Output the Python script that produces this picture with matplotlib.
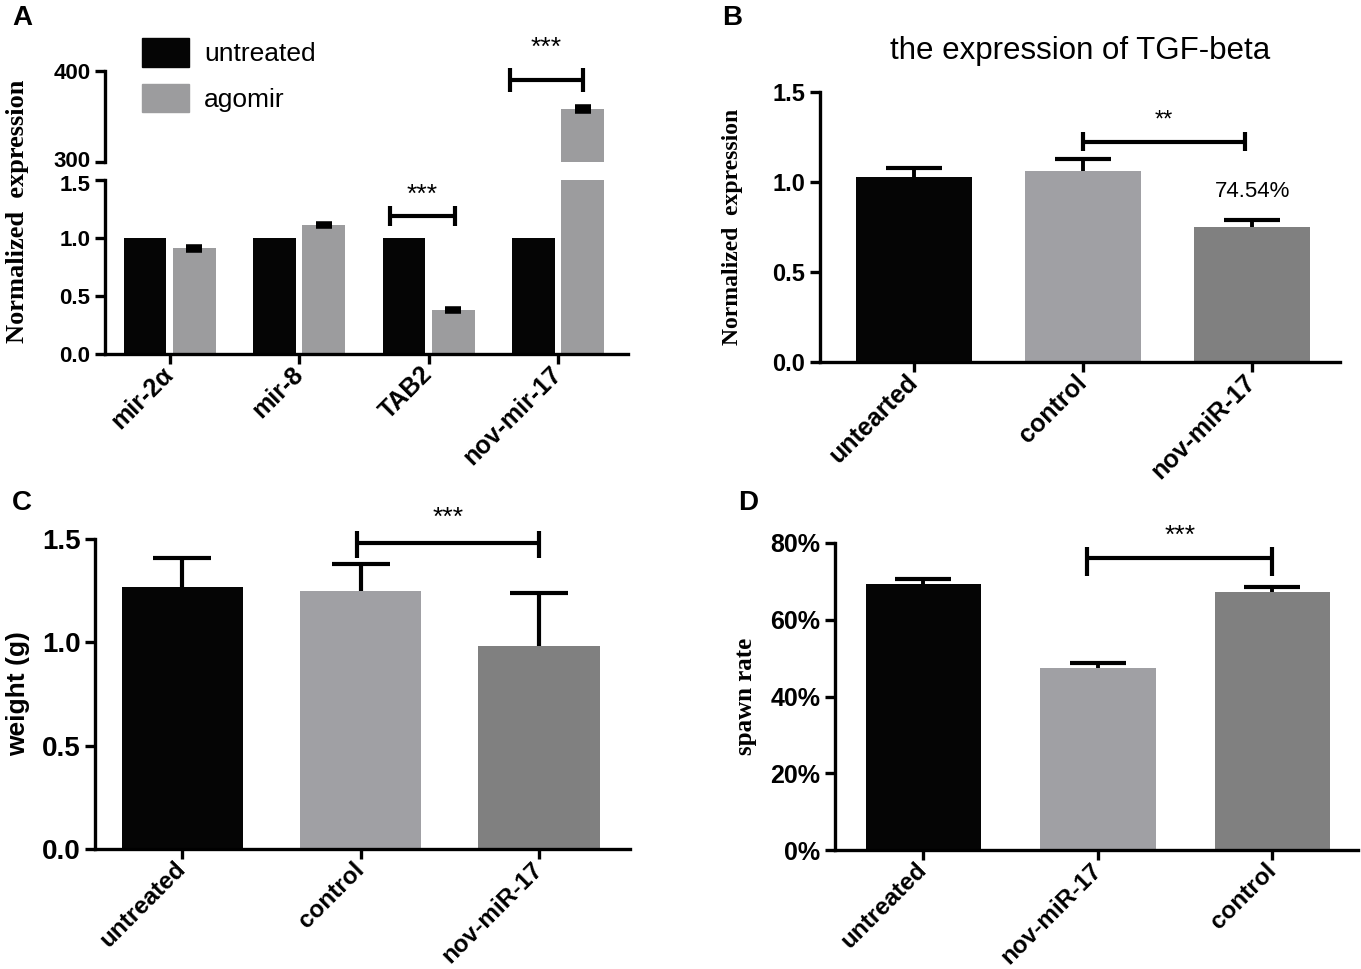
import numpy as np
import matplotlib
matplotlib.use('Agg')
import matplotlib.pyplot as plt
import matplotlib.transforms as mtrans
from matplotlib.patches import Patch
from matplotlib.ticker import PercentFormatter

# panel A: expression after agomir treatment (broken y axis)
genes = ['mir-2α', 'mir-8', 'TAB2', 'nov-mir-17']
a_untreated = [1.0, 1.0, 1.0, 1.0]
a_agomir = [0.91, 1.11, 0.38, 358.0]
a_agomir_err = [0.01, 0.01, 0.01, 2.0]

# panel B: TGF-beta expression
b_groups = ['untearted', 'control', 'nov-miR-17']
b_values = [1.03, 1.06, 0.75]
b_err = [0.05, 0.07, 0.04]

# panel C: weight
c_groups = ['untreated', 'control', 'nov-miR-17']
c_values = [1.27, 1.25, 0.98]
c_err = [0.14, 0.13, 0.26]

# panel D: spawn rate (%)
d_groups = ['untreated', 'nov-miR-17', 'control']
d_values = [69.2, 47.4, 67.2]
d_err = [1.5, 1.4, 1.3]

W, H = 1361, 969
BLACK = '#050505'
LIGHT = '#a0a0a4'
DARK = '#808080'
A_GRAY = '#9c9c9e'
SANS = 'Liberation Sans'
SERIF = 'Liberation Serif'

plt.rcParams['font.family'] = SANS
plt.rcParams['axes.linewidth'] = 2.4
plt.rcParams['xtick.major.width'] = 2.4
plt.rcParams['ytick.major.width'] = 2.4
plt.rcParams['xtick.major.size'] = 7
plt.rcParams['ytick.major.size'] = 7


def box(l, t, r, b):
    return [l / W, 1 - b / H, (r - l) / W, (b - t) / H]


def style(ax, fs=17):
    ax.spines['top'].set_visible(False)
    ax.spines['right'].set_visible(False)
    ax.tick_params(labelsize=fs)
    for lab in ax.get_yticklabels():
        lab.set_fontweight('bold')


def xlabels(ax, names, fs=18):
    ax.set_xticks(range(len(names)))
    ax.set_xticklabels(names, rotation=45, ha='right', va='center',
                       rotation_mode='anchor', fontsize=fs, fontweight='bold')
    ax.tick_params(axis='x', pad=5)


def upper_err(ax, x, y, err, cap=20, lw=2.8):
    # one-sided (upper) error bars, hide the lower cap
    _, caps, _ = ax.errorbar(x, y, yerr=[np.zeros(len(err)), err], fmt='none',
                             ecolor='black', elinewidth=lw, capsize=cap,
                             capthick=3)
    caps[0].set_visible(False)


def bracket(ax, x1, x2, y, lo, hi, stars, ys, fs=19):
    kw = dict(color='black', lw=3, clip_on=False, solid_capstyle='butt')
    ax.plot([x1, x2], [y, y], **kw)
    ax.plot([x1, x1], [lo, hi], **kw)
    ax.plot([x2, x2], [lo, hi], **kw)
    ax.text((x1 + x2) / 2, ys, stars, ha='center', va='center', fontsize=fs)


fig = plt.figure(figsize=(W / 100, H / 100), dpi=100)

# ---------------- panel A ----------------
ax_lo = fig.add_axes(box(105, 180, 628, 354))
ax_hi = fig.add_axes(box(105, 71, 628, 162))
x = np.arange(len(genes))
bw, off = 0.33, 0.19
for ax in (ax_lo, ax_hi):
    ax.bar(x - off, a_untreated, bw, color=BLACK, label='untreated')
    ax.bar(x + off, a_agomir, bw, color=A_GRAY, label='agomir')
    ax.errorbar(x + off, a_agomir, yerr=a_agomir_err, fmt='none',
                ecolor='black', elinewidth=2, capsize=6, capthick=4)
    ax.set_xlim(-0.5, 3.54)
    style(ax, fs=16)
ax_lo.set_ylim(0, 1.5)
ax_lo.set_yticks([0, 0.5, 1.0, 1.5])
ax_lo.set_yticklabels(['0.0', '0.5', '1.0', '1.5'], fontweight='bold')
xlabels(ax_lo, genes)
ax_hi.set_ylim(300, 400)
ax_hi.set_yticks([300, 400])
ax_hi.set_yticklabels(['300', '400'], fontweight='bold')
ax_hi.spines['bottom'].set_visible(False)
ax_hi.set_xticks([])
# nudge the two labels at the axis break apart a little
up = mtrans.ScaledTranslation(0, 2.5 / 72, fig.dpi_scale_trans)
down = mtrans.ScaledTranslation(0, -2.5 / 72, fig.dpi_scale_trans)
lab300 = ax_hi.get_yticklabels()[0]
lab300.set_transform(lab300.get_transform() + up)
lab15 = ax_lo.get_yticklabels()[-1]
lab15.set_transform(lab15.get_transform() + down)
ax_lo.set_ylabel('Normalized  expression', fontfamily=SERIF, fontweight='bold',
                 fontsize=19)
ax_lo.yaxis.set_label_coords(-0.145, 0.82)
bracket(ax_lo, 2 - 0.30, 2 + 0.20, 1.19, 1.10, 1.28, '***', 1.37)
bracket(ax_hi, 3 - 0.37, 3 + 0.19, 390, 377, 403, '***', 425)
fig.legend(handles=[Patch(color=BLACK, label='untreated'),
                    Patch(color=A_GRAY, label='agomir')],
           loc='upper left', bbox_to_anchor=(118 / W, 1 - 14 / H),
           frameon=False, fontsize=19, handlelength=1.8, handleheight=1.3,
           labelspacing=0.65, handletextpad=0.55)

# ---------------- panel B ----------------
axb = fig.add_axes(box(820, 92, 1340, 362))
xb = np.arange(len(b_groups))
axb.bar(xb, b_values, 0.69, color=[BLACK, LIGHT, DARK])
upper_err(axb, xb, b_values, b_err)
axb.set_xlim(-0.556, 2.52)
axb.set_ylim(0, 1.5)
axb.set_yticks([0, 0.5, 1.0, 1.5])
axb.set_yticklabels(['0.0', '0.5', '1.0', '1.5'])
style(axb)
xlabels(axb, b_groups)
axb.set_ylabel('Normalized  expression', fontfamily=SERIF, fontweight='bold',
               fontsize=17)
axb.yaxis.set_label_coords(-0.148, 0.5)
axb.set_title('the expression of TGF-beta', fontsize=22.5, pad=24)
bracket(axb, 1.0, 1.96, 1.222, 1.17, 1.28, '**', 1.34, fs=17)
axb.text(2, b_values[2] + b_err[2] + 0.155, '%.2f%%' % 74.54, ha='center',
         va='center', fontsize=16)

# ---------------- panel C ----------------
axc = fig.add_axes(box(95, 539, 630, 849))
xc = np.arange(len(c_groups))
axc.bar(xc, c_values, 0.68, color=[BLACK, LIGHT, DARK])
upper_err(axc, xc, c_values, c_err, cap=21, lw=3)
axc.set_xlim(-0.49, 2.51)
axc.set_ylim(0, 1.5)
axc.set_yticks([0, 0.5, 1.0, 1.5])
axc.set_yticklabels(['0.0', '0.5', '1.0', '1.5'])
style(axc, fs=20)
xlabels(axc, c_groups, fs=17.5)
axc.set_ylabel('weight (g)', fontweight='bold', fontsize=19)
axc.yaxis.set_label_coords(-0.121, 0.5)
bracket(axc, 0.98, 2.0, 1.48, 1.41, 1.54, '***', 1.60)

# ---------------- panel D ----------------
axd = fig.add_axes(box(835, 543, 1358, 850))
xd = np.arange(len(d_groups))
axd.bar(xd, d_values, 0.66, color=[BLACK, LIGHT, DARK])
upper_err(axd, xd, d_values, d_err)
axd.set_xlim(-0.506, 2.49)
axd.set_ylim(0, 80)
axd.set_yticks([0, 20, 40, 60, 80])
axd.yaxis.set_major_formatter(PercentFormatter(decimals=0))
style(axd, fs=18)
xlabels(axd, d_groups, fs=17.5)
axd.set_ylabel('spawn rate', fontfamily=SERIF, fontweight='bold', fontsize=18)
axd.yaxis.set_label_coords(-0.149, 0.5)
bracket(axd, 0.94, 2.0, 76, 71.4, 79, '***', 81.8)

# panel letters
for lab, px, py in [('A', 12, 18), ('B', 722, 18), ('C', 12, 503), ('D', 738, 503)]:
    fig.text(px / W, 1 - py / H, lab, fontsize=20, fontweight='bold',
             ha='left', va='center')

fig.savefig('out.png', dpi=100)
